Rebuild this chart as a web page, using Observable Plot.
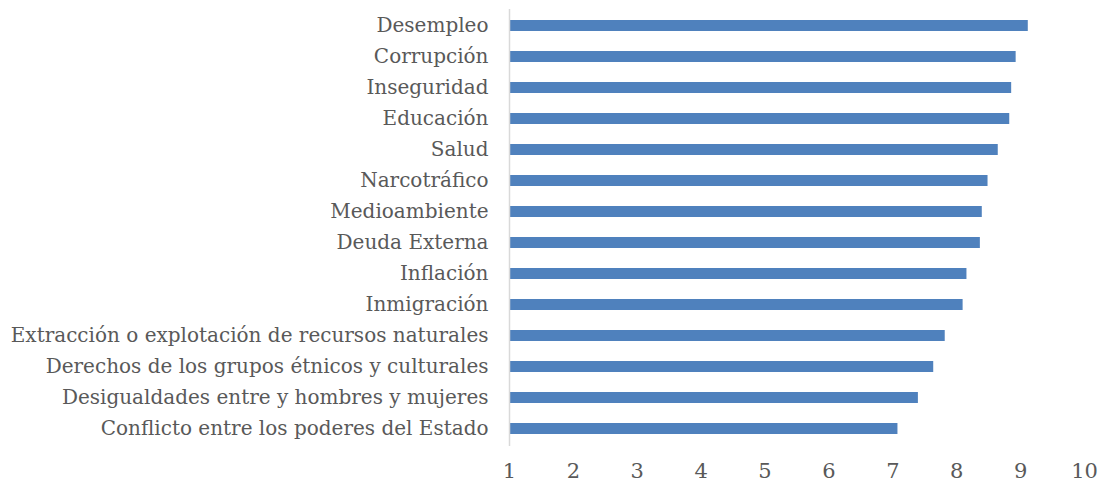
<!DOCTYPE html>
<html>
<head>
<meta charset="utf-8">
<script src="https://cdn.jsdelivr.net/npm/d3@7"></script>
<script src="https://cdn.jsdelivr.net/npm/@observablehq/plot@0.6"></script>
<style>
  html, body { margin: 0; padding: 0; background: #fff; }
</style>
</head>
<body>
<div id="chart"></div>
<script>
const categories = [
  "Desempleo",
  "Corrupción",
  "Inseguridad",
  "Educación",
  "Salud",
  "Narcotráfico",
  "Medioambiente",
  "Deuda Externa",
  "Inflación",
  "Inmigración",
  "Extracción o explotación de recursos naturales",
  "Derechos de los grupos étnicos y culturales",
  "Desigualdades entre y hombres y mujeres",
  "Conflicto entre los poderes del Estado"
];
const values = [9.12, 8.93, 8.86, 8.83, 8.65, 8.49, 8.40, 8.37, 8.16, 8.10, 7.82, 7.64, 7.40, 7.08];
const xTicks = [1, 2, 3, 4, 5, 6, 7, 8, 9, 10];
const baseline = 1;

const data = categories.map((name, i) => ({name, value: values[i]}));

const chart = Plot.plot({
  width: 1104,
  height: 486,
  marginLeft: 509,
  marginRight: 20,
  marginTop: 9,
  marginBottom: 40,
  style: {fontFamily: "'DejaVu Serif', serif", fontSize: "20px", color: "#595959", background: "#fff"},
  x: {domain: [1, 10], ticks: xTicks, tickSize: 0, label: null},
  y: {domain: categories, paddingInner: 0.64, paddingOuter: 0.32, tickSize: 0, label: null},
  marks: [
    Plot.barX(data, {x1: () => baseline, x2: "value", y: "name", fill: "#4F81BD"}),
    Plot.ruleX([baseline], {stroke: "#D9D9D9", strokeWidth: 1.5}),
    Plot.axisX({ticks: xTicks, tickSize: 0, tickPadding: 17, fontSize: 21, label: null}),
    Plot.axisY({tickSize: 0, tickPadding: 21, fontSize: 20, label: null})
  ]
});
document.getElementById("chart").appendChild(chart);
</script>
</body>
</html>
